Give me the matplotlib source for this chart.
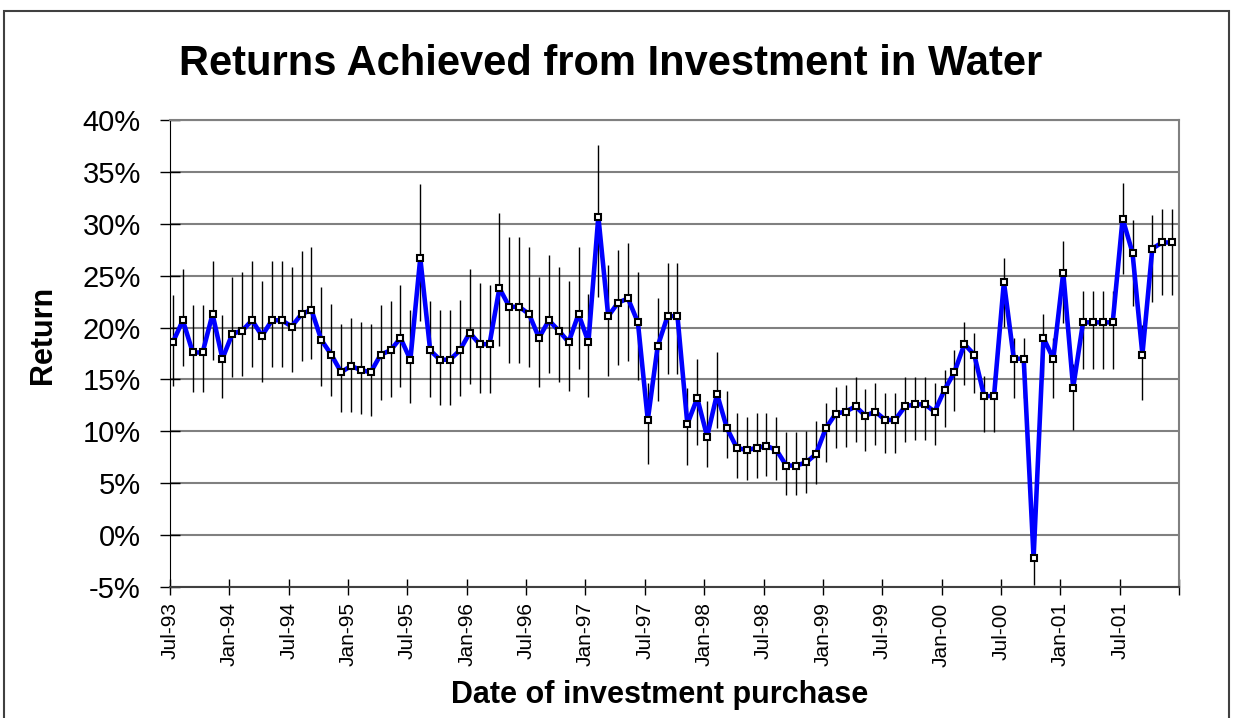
import numpy as np
import matplotlib
matplotlib.use('Agg')
import matplotlib.pyplot as plt
from matplotlib.patches import Rectangle

plt.rcParams['font.family'] = ['Liberation Sans', 'DejaVu Sans']

# monthly returns (%), Jul-93 .. Dec-01
returns = [18.6, 20.7, 17.6, 17.6, 21.3, 17.0, 19.4, 19.7, 20.7, 19.2,
           20.7, 20.7, 20.1, 21.3, 21.7, 18.8, 17.4, 15.7, 16.3, 15.9,
           15.7, 17.4, 17.8, 19.0, 16.9, 26.7, 17.8, 16.9, 16.9, 17.8,
           19.5, 18.4, 18.4, 23.8, 22.0, 22.0, 21.3, 19.0, 20.7, 19.7,
           18.6, 21.3, 18.6, 30.7, 21.1, 22.4, 22.8, 20.5, 11.1, 18.2,
           21.1, 21.1, 10.7, 13.2, 9.5, 13.6, 10.3, 8.4, 8.2, 8.4,
           8.6, 8.2, 6.7, 6.7, 7.0, 7.8, 10.3, 11.7, 11.9, 12.4,
           11.5, 11.9, 11.1, 11.1, 12.4, 12.6, 12.6, 11.9, 14.0, 15.7,
           18.4, 17.4, 13.4, 13.4, 24.4, 17.0, 17.0, -2.2, 19.0, 17.0,
           25.3, 14.2, 20.5, 20.5, 20.5, 20.5, 30.5, 27.2, 17.4, 27.6,
           28.2, 28.2]

err_hi = [4.5, 4.9, 4.6, 4.6, 5.1, 4.2, 5.5, 5.7, 5.7, 5.3,
          5.7, 5.7, 5.7, 6.1, 6.1, 5.1, 4.9, 4.6, 4.6, 4.6,
          4.6, 4.8, 4.8, 5.1, 4.8, 7.1, 4.8, 4.8, 4.8, 4.9,
          6.1, 5.9, 5.7, 7.2, 6.7, 6.7, 6.5, 5.9, 6.3, 6.1,
          5.9, 6.5, 4.6, 6.9, 4.9, 5.1, 5.3, 4.9, 3.6, 4.6,
          5.1, 5.1, 3.5, 3.8, 3.4, 4.0, 3.6, 3.4, 3.2, 3.4,
          3.2, 3.2, 3.2, 3.2, 3.0, 3.2, 2.4, 2.6, 2.6, 2.8,
          2.6, 2.8, 2.6, 2.6, 2.8, 2.6, 2.6, 2.8, 1.9, 2.1,
          2.1, 2.1, 1.9, 1.9, 2.3, 2.0, 2.0, 1.9, 2.3, 2.0,
          3.0, 2.3, 3.0, 3.0, 3.0, 3.0, 3.4, 3.2, 2.8, 3.2,
          3.2, 3.2]

err_lo = [4.2, 4.4, 3.8, 3.8, 4.4, 3.8, 4.2, 4.4, 4.5, 4.4,
          4.5, 4.5, 4.4, 4.5, 4.7, 4.4, 4.0, 3.8, 4.4, 4.2,
          4.2, 4.4, 4.5, 4.7, 4.2, 6.1, 4.5, 4.4, 4.4, 4.4,
          4.9, 4.7, 4.7, 5.6, 5.4, 5.4, 5.1, 4.7, 5.1, 4.9,
          4.7, 5.3, 5.3, 7.8, 5.8, 6.0, 6.0, 5.6, 4.2, 5.3,
          5.6, 5.6, 3.9, 4.5, 2.9, 3.3, 2.9, 2.9, 2.9, 2.9,
          2.9, 2.9, 2.8, 2.8, 2.9, 2.9, 3.3, 3.3, 3.4, 3.4,
          3.4, 3.2, 3.2, 3.2, 3.4, 3.4, 3.4, 3.2, 3.6, 3.7,
          3.9, 3.7, 3.5, 3.5, 4.3, 3.8, 3.8, 2.6, 3.8, 3.8,
          4.9, 4.1, 4.5, 4.5, 4.5, 4.5, 5.3, 5.1, 4.4, 5.1,
          5.1, 5.1]

tick_labels = ['Jul-93', 'Jan-94', 'Jul-94', 'Jan-95', 'Jul-95', 'Jan-96',
               'Jul-96', 'Jan-97', 'Jul-97', 'Jan-98', 'Jul-98', 'Jan-99',
               'Jul-99', 'Jan-00', 'Jul-00', 'Jan-01', 'Jul-01', '']

x = np.arange(len(returns))

fig = plt.figure(figsize=(12.34, 7.18), dpi=100)
ax = fig.add_axes([170 / 1234, 1 - 587 / 718, 1009 / 1234, 467 / 718])

# chart-area border
fig.patches.append(Rectangle((4 / 1234, -0.1), 1225 / 1234, 1.1 - 11 / 718,
                             transform=fig.transFigure, fill=False,
                             edgecolor='#404040', linewidth=1.5))

ax.errorbar(x, returns, yerr=[err_lo, err_hi], fmt='none', ecolor='black',
            elinewidth=1, capsize=0, zorder=2)
ax.plot(x, returns, color='#0000ff', linewidth=3.3, marker='s', markersize=5,
        markerfacecolor='white', markeredgecolor='black', markeredgewidth=1.5,
        zorder=3)

ax.set_xlim(-0.3, 101.7)
ax.set_ylim(-5, 40)
ax.set_xticks(np.arange(0, 103, 6) - 0.3)
ax.set_xticklabels(tick_labels, rotation=90, fontsize=15)
ax.set_yticks(np.arange(-5, 41, 5))
ax.set_yticklabels([f'{v}%' for v in range(-5, 41, 5)], fontsize=21)
ax.tick_params(axis='x', direction='inout', length=12, width=1, pad=5)
ax.tick_params(axis='y', direction='inout', length=14, width=1, pad=14)

ax.grid(axis='y', color='#808080', linewidth=1.5)
ax.set_axisbelow(True)
ax.spines['left'].set_color('black')
ax.spines['bottom'].set_color('#404040')
ax.spines['bottom'].set_linewidth(1.5)
ax.spines['right'].set_color('#808080')
ax.spines['right'].set_linewidth(1.5)
ax.spines['top'].set_color('#808080')
ax.spines['top'].set_linewidth(1.5)

fig.text(611 / 1234, 1 - 64 / 718, 'Returns Achieved from Investment in Water',
         fontsize=30, fontweight='bold', ha='center', va='center')
fig.text(660 / 1234, 1 - 695 / 718, 'Date of investment purchase',
         fontsize=22, fontweight='bold', ha='center', va='center')
fig.text(43 / 1234, 1 - 335 / 718, 'Return', fontsize=22, fontweight='bold',
         rotation=90, ha='center', va='center')

fig.savefig('out.png', dpi=100)
